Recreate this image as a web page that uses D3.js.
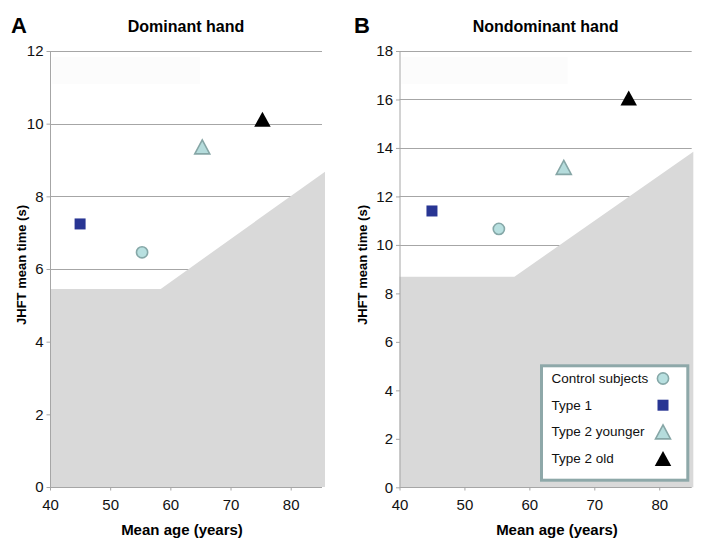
<!DOCTYPE html>
<html>
<head>
<meta charset="utf-8">
<script src="https://cdn.jsdelivr.net/npm/d3@7"></script>
<style>
  html, body { margin: 0; padding: 0; background: #fff; }
  svg { display: block; font-family: "Liberation Sans", Arial, Helvetica, sans-serif; }
</style>
</head>
<body>
<svg id="chart" width="719" height="551"></svg>
<script>
// ---------- data ----------
const groups = ["Control subjects", "Type 1", "Type 2 younger", "Type 2 old"];
const meanAges = [55.3, 45.0, 65.3, 75.3];
const dominantTimes = [6.46, 7.24, 9.36, 10.12];
const nondominantTimes = [10.66, 11.4, 13.2, 16.06];

const xTicks = [40, 50, 60, 70, 80];
const yTicksA = [0, 2, 4, 6, 8, 10, 12];
const yTicksB = [0, 2, 4, 6, 8, 10, 12, 14, 16, 18];

// shaded region boundary (age, time)
const bandAgesA = [40, 58.4, 85.7];
const bandTimesA = [5.45, 5.45, 8.68];
const bandAgesB = [40, 57.7, 85.25];
const bandTimesB = [8.69, 8.69, 13.84];

const panelLabels = ["A", "B"];
const panelTitles = ["Dominant hand", "Nondominant hand"];
const xAxisTitle = "Mean age (years)";
const yAxisTitle = "JHFT mean time (s)";

// ---------- styles ----------
const markerStyle = {
  "Control subjects": { shape: "circle", fill: "#b8e0e0", stroke: "#86a8a8" },
  "Type 1": { shape: "square", fill: "#283593", stroke: "none" },
  "Type 2 younger": { shape: "tri", fill: "#b5dcdc", stroke: "#86a6a6" },
  "Type 2 old": { shape: "tri", fill: "#000000", stroke: "none" }
};

const svg = d3.select("#chart");
const gridColor = "#a6a6a6";
const shadeColor = "#d9d9d9";

function drawMarker(g, name, cx, cy) {
  const st = markerStyle[name];
  if (st.shape === "circle") {
    g.append("circle").attr("cx", cx).attr("cy", cy).attr("r", 5.6)
      .attr("fill", st.fill).attr("stroke", st.stroke).attr("stroke-width", 1.6);
  } else if (st.shape === "square") {
    g.append("rect").attr("x", cx - 5.5).attr("y", cy - 5.5).attr("width", 11).attr("height", 11)
      .attr("fill", st.fill);
  } else {
    const big = name === "Type 2 old";
    const w = big ? 16.5 : 15, h = big ? 15 : 14;
    const p = d3.path();
    p.moveTo(cx, cy - h / 2); p.lineTo(cx + w / 2, cy + h / 2); p.lineTo(cx - w / 2, cy + h / 2); p.closePath();
    g.append("path").attr("d", p.toString()).attr("fill", st.fill)
      .attr("stroke", st.stroke === "none" ? "none" : st.stroke).attr("stroke-width", 1.6)
      .attr("stroke-linejoin", "miter");
  }
}

function drawPanel(cfg) {
  const g = svg.append("g");
  const x = d3.scaleLinear().domain([40, cfg.xMax]).range([cfg.left, cfg.right]);
  const y = d3.scaleLinear().domain([0, cfg.yMax]).range([cfg.bottom, cfg.top]);

  // faint box artefact
  g.append("rect").attr("x", cfg.left + 2).attr("y", cfg.top + 6)
    .attr("width", cfg.faintW).attr("height", 27).attr("fill", "#fcfcfc");

  // gridlines
  g.append("g").selectAll("line").data(cfg.yTicks.filter(d => d > 0)).join("line")
    .attr("x1", cfg.left).attr("x2", cfg.right)
    .attr("y1", d => Math.round(y(d)) + 0.5).attr("y2", d => Math.round(y(d)) + 0.5)
    .attr("stroke", gridColor).attr("stroke-width", 1);

  // shaded area
  const area = d3.area().x(d => x(d[0])).y0(y(0)).y1(d => y(d[1]));
  const pts = cfg.bandAges.map((a, i) => [a, cfg.bandTimes[i]]);
  g.append("path").attr("d", area(pts)).attr("fill", shadeColor);

  // left axis
  const yAxis = d3.axisLeft(y).tickValues(cfg.yTicks).tickSize(4).tickPadding(3).tickFormat(d3.format("d"));
  const ya = g.append("g").attr("transform", `translate(${cfg.left + 0.5},0)`).call(yAxis);
  ya.select(".domain").attr("stroke", gridColor).attr("d", `M-0,${cfg.top}V${cfg.bottom}`);
  ya.selectAll(".tick line").attr("stroke", gridColor);
  ya.selectAll(".tick text").attr("font-size", 15).attr("fill", "#111")
    .attr("font-family", "'Liberation Sans', Arial, sans-serif");

  // bottom axis
  const xAxis = d3.axisBottom(x).tickValues(xTicks).tickSize(3).tickPadding(9).tickFormat(d3.format("d"));
  const xa = g.append("g").attr("transform", `translate(0,${Math.round(y(0)) + 0.5})`).call(xAxis);
  xa.select(".domain").attr("stroke", gridColor).attr("d", `M${cfg.left},0H${cfg.right}`);
  xa.selectAll(".tick line").attr("stroke", gridColor);
  xa.selectAll(".tick text").attr("font-size", 15).attr("fill", "#111")
    .attr("font-family", "'Liberation Sans', Arial, sans-serif");

  // markers
  groups.forEach((name, i) => {
    drawMarker(g, name, x(meanAges[i]), y(cfg.values[i]));
  });

  // texts
  g.append("text").attr("x", cfg.letterX).attr("y", 33).attr("font-size", 22).attr("font-weight", "bold")
    .attr("fill", "#000").text(cfg.letter);
  g.append("text").attr("x", (cfg.left + cfg.right) / 2).attr("y", 31.5).attr("text-anchor", "middle")
    .attr("font-size", 16).attr("font-weight", "bold").attr("fill", "#000").text(cfg.title);
  g.append("text").attr("x", cfg.xTitleX).attr("y", 535).attr("text-anchor", "middle")
    .attr("font-size", 15).attr("font-weight", "bold").attr("fill", "#000").text(xAxisTitle);
  g.append("text").attr("transform", `translate(${cfg.yTitleX},265) rotate(-90)`).attr("text-anchor", "middle")
    .attr("font-size", 13).attr("font-weight", "bold").attr("fill", "#000").text(yAxisTitle);
  return { g, x, y };
}

drawPanel({
  left: 50, right: 322, top: 51, bottom: 487, xMax: 85.2, yMax: 12,
  yTicks: yTicksA, bandAges: bandAgesA, bandTimes: bandTimesA, values: dominantTimes,
  letter: panelLabels[0], letterX: 11, title: panelTitles[0], xTitleX: 182, yTitleX: 25.5, faintW: 148
});
drawPanel({
  left: 399.5, right: 691.7, top: 51, bottom: 487.3, xMax: 85.0, yMax: 18,
  yTicks: yTicksB, bandAges: bandAgesB, bandTimes: bandTimesB, values: nondominantTimes,
  letter: panelLabels[1], letterX: 354, title: panelTitles[1], xTitleX: 557, yTitleX: 367, faintW: 166
});

// legend
const lg = svg.append("g");
lg.append("rect").attr("x", 541.5).attr("y", 365.8).attr("width", 146.3).attr("height", 114.4)
  .attr("fill", "#fff").attr("stroke", "#8ea8a9").attr("stroke-width", 3);
groups.forEach((name, i) => {
  const yy = 383 + i * 26.7;
  lg.append("text").attr("x", 551.5).attr("y", yy).attr("font-size", 13.5).attr("fill", "#111").text(name);
  drawMarker(lg, name, 663, yy - 4.5);
});
</script>
</body>
</html>
